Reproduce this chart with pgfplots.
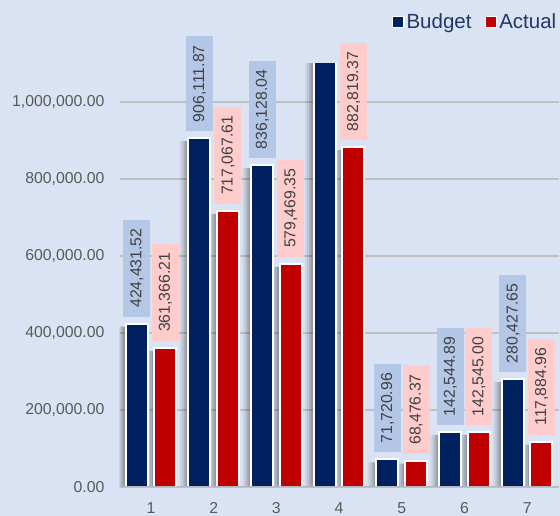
\documentclass[border=0pt]{standalone}
\usepackage{pgfplots}
\pgfplotsset{compat=1.18}
\usepackage{pgfplotstable}
\usepackage{fontspec}
\setmainfont{Liberation Sans}
\definecolor{navy}{HTML}{002060}
\definecolor{barred}{HTML}{C00000}
\definecolor{bg}{HTML}{DAE3F3}
\definecolor{gridc}{HTML}{BFBFBF}
\definecolor{axisc}{HTML}{B4B8BE}
\definecolor{tickc}{HTML}{595959}
\definecolor{labc}{HTML}{404040}
\definecolor{boxblue}{HTML}{B4C7E7}
\definecolor{boxpink}{HTML}{FFCCCC}
\definecolor{legc}{HTML}{1F3864}

\pgfplotstableread{
x y label
0.772 424431.52 {424,431.52}
1.772 906111.87 {906,111.87}
2.772 836128.04 {836,128.04}
4.772 71720.96 {71,720.96}
5.772 142544.89 {142,544.89}
6.772 280427.65 {280,427.65}
}\budget
\pgfplotstableread{
x y
3.772 1150000
}\budgetfour
\pgfplotstableread{
x y label
1.228 361366.21 {361,366.21}
2.228 717067.61 {717,067.61}
3.228 579469.35 {579,469.35}
4.228 882819.37 {882,819.37}
5.228 68476.37 {68,476.37}
6.228 142545.00 {142,545.00}
7.228 117884.96 {117,884.96}
}\actual

\begin{document}
\begin{tikzpicture}
\path[use as bounding box, fill=bg] (-119.6pt,-29pt) rectangle (440.4pt,487pt);
\begin{axis}[
  at={(0,0)}, anchor=south west,
  scale only axis, width=438.9pt, height=423.5pt,
  xmin=0.5, xmax=7.5, ymin=0, ymax=1100000,
  axis line style={draw=none},
  major tick length=0pt,
  ymajorgrids, grid style={line width=2pt, color=gridc},
  ytick={0,200000,400000,600000,800000,1000000},
  xtick={1,2,3,4,5,6,7},
  scaled y ticks=false,
  ticklabel style={font=\fontsize{15.8}{18}\selectfont, text=tickc},
  /pgf/number format/assume math mode=true,
  yticklabel style={/pgf/number format/fixed, /pgf/number format/fixed zerofill, /pgf/number format/precision=2, /pgf/number format/1000 sep={,}},
  yticklabel style={inner xsep=0pt, xshift=-15pt},
  xticklabel style={inner ysep=0pt, yshift=-15pt},
  ybar, bar width=0.35, bar shift=0pt,
  legend columns=2,
  legend style={at={(1.0,1.098)}, anchor=east, draw=none, fill=none,
    font=\fontsize{20.5}{24}\selectfont, text=legc, inner xsep=0pt,
    /tikz/every even column/.append style={column sep=11pt}},
  legend cell align=left,
  nodes near coords style={rotate=90, anchor=west, outer xsep=7pt,
    font=\fontsize{15.8}{18}\selectfont, text=labc,
    inner xsep=9pt, inner ysep=6.8pt, text height=11.4pt, text depth=2pt},
  shadow/.style={fill=black, draw=none, opacity=#1, forget plot, yshift=-3pt},
]
\addlegendimage{legend image code/.code={\draw[fill=navy, draw=white, line width=1.3pt] (0pt,-5.5pt) rectangle (11.5pt,5.5pt);}}
\addlegendentry{Budget}
\addlegendimage{legend image code/.code={\draw[fill=barred, draw=white, line width=1.3pt] (0pt,-5.5pt) rectangle (11.5pt,5.5pt);}}
\addlegendentry{Actual}

% soft shadows (same data, shifted left)
\addplot[shadow=0.06, bar shift=-8.5pt] table[x=x, y=y] \budgetfour;
\addplot[shadow=0.06, bar shift=-8.5pt] table[x=x, y=y] \budget;
\addplot[shadow=0.06, bar shift=-8.5pt] table[x=x, y=y] \actual;
\addplot[shadow=0.08, bar shift=-6.5pt] table[x=x, y=y] \budgetfour;
\addplot[shadow=0.08, bar shift=-6.5pt] table[x=x, y=y] \budget;
\addplot[shadow=0.08, bar shift=-6.5pt] table[x=x, y=y] \actual;
\addplot[shadow=0.10, bar shift=-4.5pt] table[x=x, y=y] \budgetfour;
\addplot[shadow=0.10, bar shift=-4.5pt] table[x=x, y=y] \budget;
\addplot[shadow=0.10, bar shift=-4.5pt] table[x=x, y=y] \actual;
\addplot[shadow=0.13, bar shift=-2.5pt] table[x=x, y=y] \budgetfour;
\addplot[shadow=0.13, bar shift=-2.5pt] table[x=x, y=y] \budget;
\addplot[shadow=0.13, bar shift=-2.5pt] table[x=x, y=y] \actual;

\addplot[fill=navy, draw=white, line width=2pt, forget plot] table[x=x, y=y] \budgetfour;
\addplot[fill=navy, draw=white, line width=2pt,
  point meta=explicit symbolic,
  nodes near coords, every node near coord/.append style={fill=boxblue},
  forget plot] table[x=x, y=y, meta=label] \budget;
\addplot[fill=barred, draw=white, line width=2pt,
  point meta=explicit symbolic,
  nodes near coords, every node near coord/.append style={fill=boxpink},
  forget plot] table[x=x, y=y, meta=label] \actual;
\draw[line width=2.5pt, color=axisc] (rel axis cs:0,0) -- (rel axis cs:1,0);
\end{axis}
\end{tikzpicture}
\end{document}
